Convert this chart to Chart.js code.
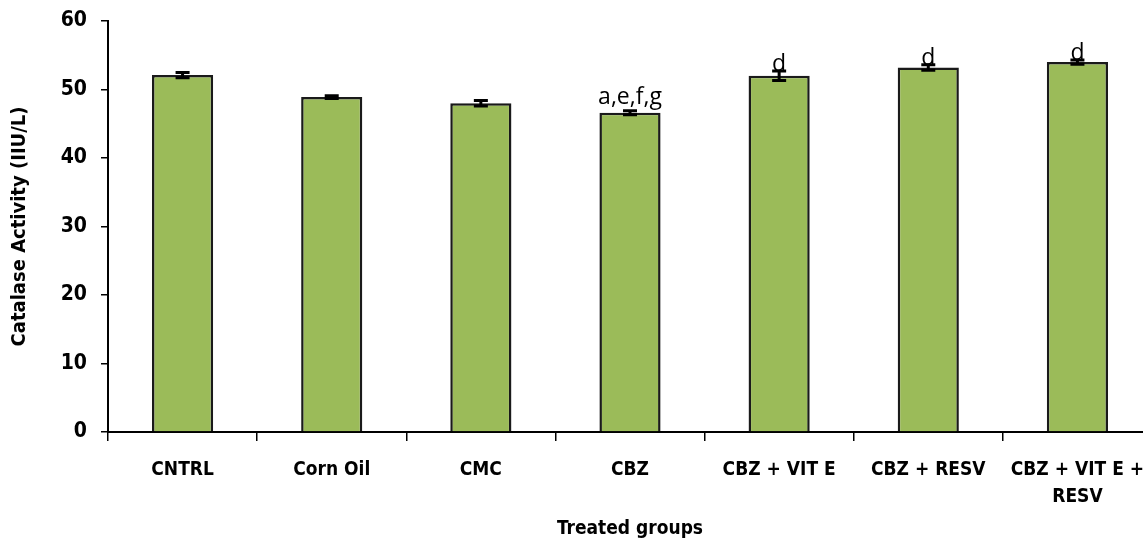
<!DOCTYPE html>
<html>
<head>
<meta charset="utf-8">
<script src="https://cdn.jsdelivr.net/npm/chart.js@4/dist/chart.umd.min.js"></script>
<style>
  html, body { margin: 0; padding: 0; background: #fff; overflow: hidden; }
  #wrap { width: 1152px; height: 548px; }
</style>
</head>
<body>
<div id="wrap"><canvas id="myChartBar" width="1152" height="548"></canvas></div>
<script>
var grupos = ['CNTRL', 'Corn Oil', 'CMC', 'CBZ', 'CBZ + VIT E', 'CBZ + RESV', ['CBZ + VIT E +', 'RESV']];
var valores = [52.1, 48.9, 48.0, 46.6, 52.0, 53.2, 54.0];
var erros = [0.4, 0.2, 0.4, 0.3, 0.7, 0.4, 0.3];
var letras = ['', '', '', 'a,e,f,g', 'd', 'd', 'd'];
var escalaY = [0, 10, 20, 30, 40, 50, 60];

var fonte = "'DejaVu Sans Condensed', 'DejaVu Sans', sans-serif";

// barras de erro e letras de significancia
var extras = {
    id: 'extras',
    afterDatasetsDraw: function(chart){
        var ctx = chart.ctx;
        var x = chart.scales.x, y = chart.scales.y;
        ctx.save();
        valores.forEach(function(v, i){
            var cx = x.getPixelForValue(i);
            var yTop = y.getPixelForValue(v + erros[i]);
            var yBot = y.getPixelForValue(v - erros[i]);
            ctx.strokeStyle = '#000';
            ctx.lineWidth = 3;
            ctx.beginPath();
            ctx.moveTo(cx, yTop); ctx.lineTo(cx, yBot);
            ctx.moveTo(cx - 7, yTop); ctx.lineTo(cx + 7, yTop);
            ctx.moveTo(cx - 7, yBot); ctx.lineTo(cx + 7, yBot);
            ctx.stroke();
            if (letras[i]) {
                ctx.fillStyle = '#000';
                ctx.font = "23px 'Open Sans', " + fonte;
                ctx.textAlign = 'center';
                ctx.textBaseline = 'alphabetic';
                // letras com descendentes ficam acima da barra
                var desloc = letras[i].length > 1 ? -7 : 0;
                ctx.fillText(letras[i], cx, yTop + desloc);
            }
        });
        ctx.restore();
    }
};

var ctx = document.getElementById('myChartBar').getContext('2d');
var grafico = new Chart(ctx, {
    type: 'bar',
    data: {
        labels: grupos,
        datasets: [{
            label: 'Catalase',
            data: valores,
            backgroundColor: '#9BBB59',
            borderColor: '#1a1a1a',
            borderWidth: 2.5,
            barPercentage: 0.41,
            categoryPercentage: 1
        }]
    },
    options: {
        responsive: false,
        animation: false,
        layout: { padding: { top: 21, right: 0, bottom: 4, left: 4 } },
        plugins: {
            legend: { display: false },
            tooltip: { enabled: false }
        },
        scales: {
            x: {
                offset: true,
                grid: { display: true, drawOnChartArea: false, offset: true, tickLength: 9, color: '#000', lineWidth: 1.5 },
                border: { color: '#000', width: 2 },
                ticks: { color: '#000', font: { family: fonte, size: 19, weight: 'bold', lineHeight: 1.45 }, padding: 15, maxRotation: 0, autoSkip: false },
                title: { display: true, text: 'Treated groups', color: '#000', font: { family: fonte, size: 19, weight: 'bold' }, padding: { top: 8 } },
                afterFit: function(s){ s.height = 112; s.paddingLeft = 0; s.paddingRight = 0; }
            },
            y: {
                min: 0,
                max: 60,
                afterBuildTicks: function(s){ s.ticks = escalaY.map(function(v){ return { value: v }; }); },
                grid: { display: true, drawOnChartArea: false, tickLength: 7, color: '#000', lineWidth: 1.5 },
                border: { color: '#000', width: 2 },
                ticks: { color: '#000', font: { family: fonte, size: 21, weight: 'bold' }, padding: 14 },
                title: { display: true, text: 'Catalase Activity (IIU/L)', color: '#000', font: { family: fonte, size: 20, weight: 'bold' }, padding: { bottom: 4 } },
                afterFit: function(s){ s.width = 104; s.paddingTop = 0; s.paddingBottom = 0; }
            }
        }
    },
    plugins: [extras]
});
</script>
</body>
</html>
